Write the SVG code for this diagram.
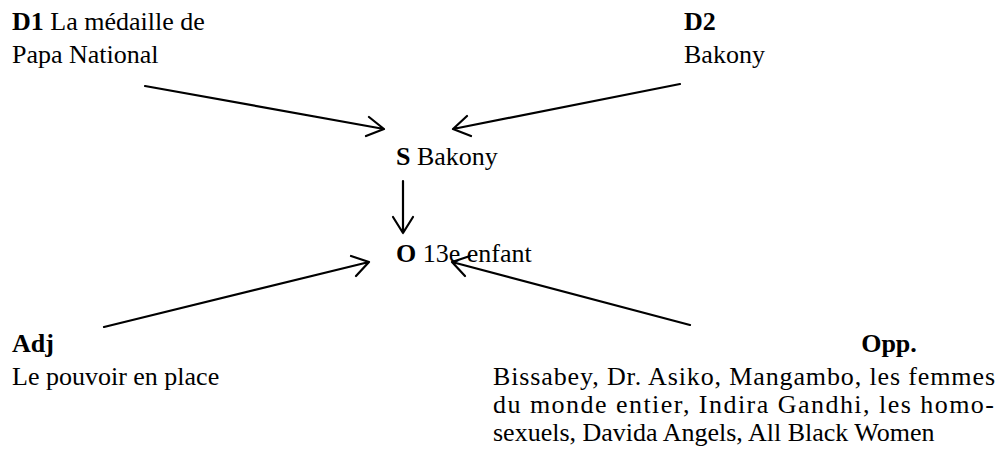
<svg xmlns="http://www.w3.org/2000/svg" width="1001" height="449" viewBox="0 0 1001 449">
<style>
text{font-family:"Liberation Serif","Times New Roman",serif;font-size:26px;fill:#000}
.b{font-weight:bold}
.c{stroke:#000;stroke-width:2.2;fill:none;stroke-linecap:round;stroke-linejoin:round}
</style>
<rect width="1001" height="449" fill="#fff"/>
<g id="D1"><text x="12" y="30"><tspan class="b">D1</tspan> La médaille de</text><text x="12" y="63">Papa National</text></g>
<g id="D2"><text x="684" y="30" class="b">D2</text><text x="684" y="63">Bakony</text></g>
<g id="S"><text x="396" y="165"><tspan class="b">S</tspan> Bakony</text></g>
<g id="O"><text x="396" y="262"><tspan class="b">O</tspan> 13e enfant</text></g>
<g id="Adj"><text x="12" y="352" class="b">Adj</text><text x="12" y="385">Le pouvoir en place</text></g>
<g id="Opp"><text x="889" y="352" class="b" text-anchor="middle">Opp.</text>
<text x="493" y="385" textLength="502" lengthAdjust="spacing">Bissabey, Dr. Asiko, Mangambo, les femmes</text>
<text x="493" y="413" textLength="501" lengthAdjust="spacing">du monde entier, Indira Gandhi, les homo-</text>
<text x="493" y="441">sexuels, Davida Angels, All Black Women</text></g>
<g id="connectors" class="c">
<path d="M145 86L384 129M369 117L384 129L366 136"/>
<path d="M680 84L453 129M467 116L453 129L471 136"/>
<path d="M403 181V233M393 217L403 233L413 217"/>
<path d="M104 327L369 262M351 256L369 262L356 276"/>
<path d="M690 325L452 262M470 256L452 262L465 276"/>
</g>
</svg>
